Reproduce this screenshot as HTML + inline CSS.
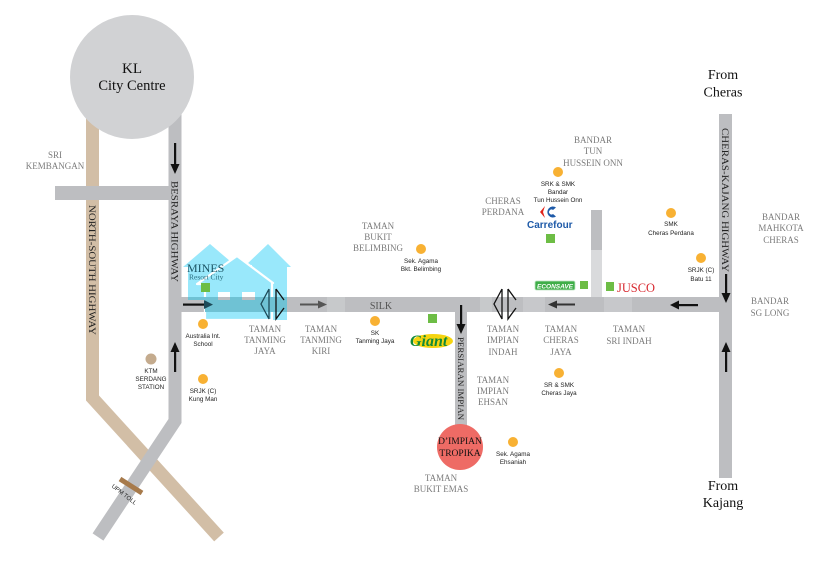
<!DOCTYPE html>
<html><head><meta charset="utf-8">
<style>
html,body{margin:0;padding:0;background:#fff;}
svg{display:block;}
.g{font-family:"Liberation Serif",serif;font-size:9px;fill:#7b7b7b;text-anchor:middle;}
.s{font-family:"Liberation Sans",sans-serif;font-size:6.3px;fill:#222;text-anchor:middle;}
.b{font-family:"Liberation Serif",serif;fill:#111;text-anchor:middle;}
.r{font-family:"Liberation Serif",serif;font-size:9.5px;fill:#222;}
</style></head>
<body>
<svg width="820" height="564" viewBox="0 0 820 564" xmlns="http://www.w3.org/2000/svg">
<defs>
<clipPath id="hc">
<polygon points="183,267 210,244 237,267 232,267 232,300 188,300 188,267"/>
<polygon points="246,265 268,244 291,267 287,267 287,320 252,320 252,265"/>
<polygon points="197,284 237,256 273,283 272,283 272,320 205,320 205,284"/>
</clipPath>
</defs>
<rect width="820" height="564" fill="#fff"/>

<!-- North-South highway (tan) -->
<polyline points="92.5,110 92.5,398 219,537" fill="none" stroke="#d2bea6" stroke-width="13" stroke-linejoin="miter"/>
<!-- Sri Kembangan road -->
<rect x="55" y="186" width="120" height="14" fill="#bdbec1"/>
<!-- Besraya highway -->
<polyline points="175,110 175,421 98,537" fill="none" stroke="#bdbec1" stroke-width="13" stroke-linejoin="miter"/>
<!-- UPM toll bar -->
<line x1="120" y1="479" x2="142" y2="493" stroke="#a77a4b" stroke-width="5"/>
<text x="0" y="0" transform="translate(123,496) rotate(38)" style="font-family:'Liberation Sans',sans-serif;font-size:6px;fill:#222;text-anchor:middle;">UPM TOLL</text>

<!-- main SILK road -->
<rect x="181" y="297" width="551" height="15" fill="#bdbec1"/>
<g fill="#d2d3d5" opacity="0.5">
<rect x="327" y="297" width="18" height="15"/>
<rect x="480" y="297" width="12" height="15"/>
<rect x="523" y="297" width="22" height="15"/>
<rect x="604" y="297" width="28" height="15"/>
</g>
<!-- Cheras-Kajang highway -->
<rect x="719" y="114" width="13" height="364" fill="#bdbec1"/>
<!-- stub road -->
<rect x="591" y="210" width="11" height="40" fill="#bdbec1"/>
<rect x="591" y="250" width="11" height="47" fill="#d9dadc"/>
<!-- Persiaran Impian -->
<rect x="455" y="312" width="12" height="116" fill="#bdbec1"/>

<!-- KL circle -->
<circle cx="132" cy="77" r="62" fill="#d1d2d4"/>
<text class="b" x="132" y="73" style="font-size:15px">KL</text>
<text class="b" x="132" y="90" style="font-size:14.5px">City Centre</text>

<!-- D'Impian circle -->
<circle cx="460" cy="447" r="23" fill="#ee6b65"/>
<text class="b" x="460" y="444" style="font-size:9.5px">D’IMPIAN</text>
<text class="b" x="460" y="456" style="font-size:9.5px">TROPIKA</text>

<!-- rotated highway names -->
<text class="r" transform="translate(171.5,181) rotate(90)" textLength="101" lengthAdjust="spacingAndGlyphs">BESRAYA HIGHWAY</text>
<text class="r" transform="translate(89,205) rotate(90)" textLength="130" lengthAdjust="spacingAndGlyphs">NORTH-SOUTH HIGHWAY</text>
<text class="r" transform="translate(722,128) rotate(90)" textLength="144" lengthAdjust="spacingAndGlyphs">CHERAS-KAJANG HIGHWAY</text>
<text class="r" transform="translate(458,337) rotate(90)" textLength="83" lengthAdjust="spacingAndGlyphs" style="font-size:8.5px">PERSIARAN IMPIAN</text>

<!-- MINES houses overlay -->
<g fill="#99e8fb">
<polygon points="183,267 210,244 237,267 232,267 232,300 188,300 188,267"/>
<polygon points="246,265 268,244 291,267 287,267 287,320 252,320 252,265"/>
</g>
<polygon points="197,284 237,256 273,283 272,283 272,320 205,320 205,284" fill="#99e8fb" stroke="#fff" stroke-width="2.2" stroke-linejoin="round"/>
<rect x="181" y="297" width="115" height="15" fill="#6fc2d4" clip-path="url(#hc)"/>
<rect x="218" y="292" width="12" height="5" fill="#fff"/>
<rect x="218" y="297" width="12" height="3" fill="#bdbec1"/>
<rect x="242" y="292" width="13" height="5" fill="#fff"/>
<rect x="242" y="297" width="13" height="3" fill="#bdbec1"/>

<!-- arrows -->
<g fill="#111" stroke="none">
<rect x="174" y="143" width="2.2" height="22"/><polygon points="170.5,164 179.5,164 175,174"/>
<rect x="174" y="351" width="2.2" height="21"/><polygon points="170.5,352 179.5,352 175,342"/>
<rect x="183" y="303.5" width="22" height="2.2"/><polygon points="204,300 204,309 213,304.6" fill="#1d4a58"/>
<rect x="725" y="274" width="2.2" height="20"/><polygon points="721.5,293 730.5,293 726,303"/>
<rect x="725" y="351" width="2.2" height="21"/><polygon points="721.5,352 730.5,352 726,342"/>
<rect x="678" y="304" width="20" height="2.2"/><polygon points="679,300.5 679,309.5 670,305"/>
<rect x="460" y="305" width="2.2" height="20"/><polygon points="456.5,324 465.5,324 461,334"/>
</g>
<g fill="#555">
<rect x="300" y="303.5" width="19" height="2"/><polygon points="318,300.5 318,308.5 327,304.5"/>
</g>
<g fill="#333">
<rect x="556" y="303.5" width="19" height="2"/><polygon points="557,300.5 557,308.5 548,304.5"/>
</g>

<!-- overpass symbols -->
<g fill="none" stroke="#111" stroke-width="1.3">
<polyline points="269,289 261,304 269,319 269,289" stroke="#1d4a58"/>
<polyline points="276,289 276,319 284,308"/><polyline points="276,289 284,300"/>
<polyline points="502,289 494,304 502,319 502,289"/>
<polyline points="508,289 508,319 516,308"/><polyline points="508,289 516,300"/>
</g>

<text x="187" y="272" style="font-family:'Liberation Serif',serif;font-size:12px;fill:#1c5565">MINES</text>
<text x="189" y="279.5" style="font-family:'Liberation Serif',serif;font-size:7.5px;fill:#2a6f80">Resort City</text>

<!-- green squares -->
<g fill="#6dbd45">
<rect x="201" y="283" width="9" height="9"/>
<rect x="428" y="314" width="9" height="9"/>
<rect x="546" y="234" width="9" height="9"/>
<rect x="580" y="281" width="8" height="8"/>
<rect x="606" y="282" width="8" height="9"/>
</g>

<!-- dots -->
<g fill="#f8b133">
<circle cx="203" cy="324" r="5"/>
<circle cx="203" cy="379" r="5"/>
<circle cx="421" cy="249" r="5"/>
<circle cx="375" cy="321" r="5"/>
<circle cx="558" cy="172" r="5"/>
<circle cx="671" cy="213" r="5"/>
<circle cx="701" cy="258" r="5"/>
<circle cx="559" cy="373" r="5"/>
<circle cx="513" cy="442" r="5"/>
</g>
<circle cx="151" cy="359" r="5.5" fill="#c4ab8e"/>

<!-- gray place labels -->
<text class="g" x="55" y="158">SRI</text><text class="g" x="55" y="169">KEMBANGAN</text>
<text class="g" x="265" y="332">TAMAN</text><text class="g" x="265" y="343">TANMING</text><text class="g" x="265" y="354">JAYA</text>
<text class="g" x="321" y="332">TAMAN</text><text class="g" x="321" y="343">TANMING</text><text class="g" x="321" y="354">KIRI</text>
<text class="g" x="378" y="229">TAMAN</text><text class="g" x="378" y="240">BUKIT</text><text class="g" x="378" y="251">BELIMBING</text>
<text class="g" x="503" y="204">CHERAS</text><text class="g" x="503" y="215">PERDANA</text>
<text class="g" x="593" y="143">BANDAR</text><text class="g" x="593" y="154">TUN</text><text class="g" x="593" y="166">HUSSEIN ONN</text>
<text class="g" x="503" y="332">TAMAN</text><text class="g" x="503" y="343">IMPIAN</text><text class="g" x="503" y="355">INDAH</text>
<text class="g" x="561" y="332">TAMAN</text><text class="g" x="561" y="343">CHERAS</text><text class="g" x="561" y="355">JAYA</text>
<text class="g" x="629" y="332">TAMAN</text><text class="g" x="629" y="344">SRI INDAH</text>
<text class="g" x="493" y="383">TAMAN</text><text class="g" x="493" y="394">IMPIAN</text><text class="g" x="493" y="405">EHSAN</text>
<text class="g" x="441" y="481">TAMAN</text><text class="g" x="441" y="492">BUKIT EMAS</text>
<text class="g" x="781" y="220">BANDAR</text><text class="g" x="781" y="231">MAHKOTA</text><text class="g" x="781" y="243">CHERAS</text>
<text class="g" x="770" y="304">BANDAR</text><text class="g" x="770" y="316">SG LONG</text>
<text x="381" y="309" style="font-family:'Liberation Serif',serif;font-size:10px;fill:#555;text-anchor:middle">SILK</text>

<!-- small labels -->
<text class="s" x="203" y="338">Australia Int.</text><text class="s" x="203" y="346">School</text>
<text class="s" x="151" y="373">KTM</text><text class="s" x="151" y="381">SERDANG</text><text class="s" x="151" y="389">STATION</text>
<text class="s" x="203" y="393">SRJK (C)</text><text class="s" x="203" y="401">Kung Man</text>
<text class="s" x="421" y="263">Sek. Agama</text><text class="s" x="421" y="271">Bkt. Belimbing</text>
<text class="s" x="375" y="335">SK</text><text class="s" x="375" y="343">Tanming Jaya</text>
<text class="s" x="558" y="186">SRK &amp; SMK</text><text class="s" x="558" y="194">Bandar</text><text class="s" x="558" y="202">Tun Hussein Onn</text>
<text class="s" x="671" y="226">SMK</text><text class="s" x="671" y="235">Cheras Perdana</text>
<text class="s" x="701" y="272">SRJK (C)</text><text class="s" x="701" y="281">Batu 11</text>
<text class="s" x="559" y="387">SR &amp; SMK</text><text class="s" x="559" y="395">Cheras Jaya</text>
<text class="s" x="513" y="456">Sek. Agama</text><text class="s" x="513" y="464">Ehsaniah</text>

<!-- From labels -->
<text class="b" x="723" y="79" style="font-size:14px">From</text>
<text class="b" x="723" y="96.5" style="font-size:14px">Cheras</text>
<text class="b" x="723" y="490" style="font-size:14px">From</text>
<text class="b" x="723" y="507" style="font-size:14px">Kajang</text>

<!-- Carrefour -->
<polygon points="545,206 540,212 545,218 543,212" fill="#e2231a"/>
<path d="M556,207.5 A5.5,5.5 0 1 0 556,216.5 L553,214 A2.5,2.5 0 1 1 553,210 Z" fill="#1e5aa8"/>
<text x="527" y="228" style="font-family:'Liberation Sans',sans-serif;font-weight:bold;font-size:10px;fill:#1e5aa8">Carrefour</text>

<!-- Giant -->
<ellipse cx="433" cy="341" rx="20" ry="7" fill="#f5d410"/>
<text x="410" y="346" style="font-family:'Liberation Serif',serif;font-style:italic;font-weight:bold;font-size:16px;fill:#138a36">Giant</text>

<!-- Econsave -->
<rect x="535" y="281" width="40" height="9" rx="1.5" fill="#3fae49" stroke="#bfe4c2" stroke-width="0.8"/>
<text x="555" y="288.3" style="font-family:'Liberation Sans',sans-serif;font-weight:bold;font-style:italic;font-size:6.5px;fill:#fff;text-anchor:middle">ECONSAVE</text>

<!-- Jusco -->
<text x="617" y="292" textLength="38" lengthAdjust="spacingAndGlyphs" style="font-family:'Liberation Serif',serif;font-size:13px;fill:#d7262d">JUSCO</text>
</svg>
</body></html>
